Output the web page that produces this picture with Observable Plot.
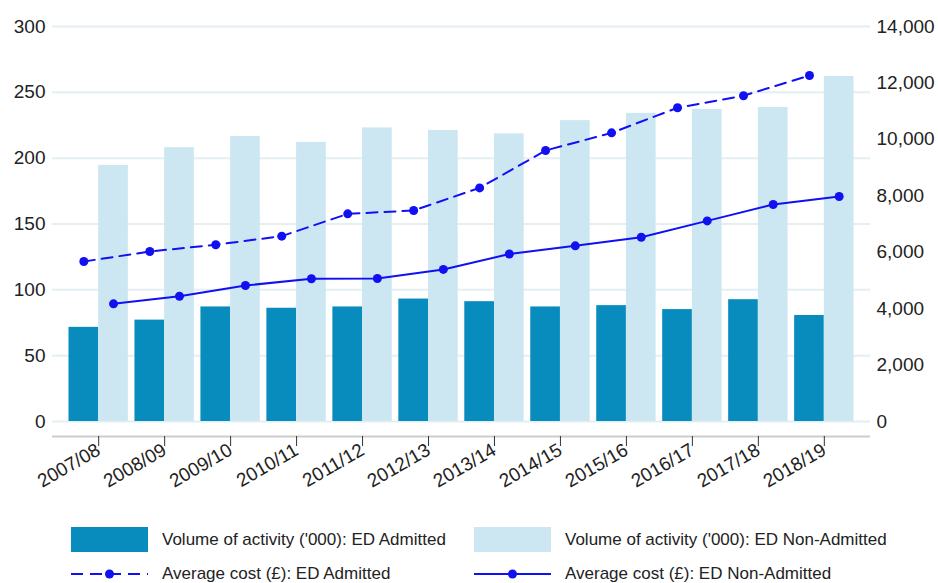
<!DOCTYPE html>
<html><head><meta charset="utf-8">
<script src="https://cdn.jsdelivr.net/npm/d3@7"></script>
<script src="https://cdn.jsdelivr.net/npm/@observablehq/plot@0.6"></script>
<style>
body{margin:0;background:#fff;font-family:"Liberation Sans",Arial,sans-serif;}
#wrap{position:relative;width:938px;height:583px;overflow:hidden}
.leg{position:absolute;display:flex;align-items:center;font-size:17px;color:#222;white-space:nowrap}
.leg svg{margin-right:14px}
</style></head><body>
<div id="wrap"><div id="chart"></div><div id="legend"></div></div>
<script>
const years = ["2007/08","2008/09","2009/10","2010/11","2011/12","2012/13","2013/14","2014/15","2015/16","2016/17","2017/18","2018/19"];
const volAdmitted    = [71.5, 77, 87, 86, 87, 93, 91, 87, 88, 85, 92.5, 80.5];
const volNonAdmitted = [194.5, 208, 216.5, 212, 223, 221, 218.5, 228.5, 234, 237, 238.5, 262];
const costAdmitted    = [5670, 6025, 6265, 6570, 7360, 7480, 8280, 9605, 10230, 11120, 11545, 12265];
const costNonAdmitted = [4170, 4440, 4820, 5060, 5070, 5390, 5935, 6225, 6530, 7110, 7690, 7975];
const leftTicks  = [0, 50, 100, 150, 200, 250, 300];
const rightTicks = [0, 2000, 4000, 6000, 8000, 10000, 12000, 14000];
const seriesNames = ["Volume of activity ('000): ED Admitted", "Volume of activity ('000): ED Non-Admitted",
                     "Average cost (£): ED Admitted", "Average cost (£): ED Non-Admitted"];

const LEFT_MAX = 300, RIGHT_MAX = 14000;
const toLeft = c => c * LEFT_MAX / RIGHT_MAX;
const colAdm = "#088bbd", colNon = "#cce7f2", colLine = "#1010f2";

const W = 938, H = 505, mL = 52, mR = 68, mT = 26, mB = 69;
const yMin = -15 * 300 / 395;
const pInner = 0.1, pOuter = 0.25;
const bw = d3.scaleBand(years, [mL, W - mR]).paddingInner(pInner).paddingOuter(pOuter).bandwidth();

const vol = years.map((y, i) => ({year: y, adm: volAdmitted[i], non: volNonAdmitted[i]}));
const cost = years.map((y, i) => ({year: y, adm: toLeft(costAdmitted[i]), non: toLeft(costNonAdmitted[i])}));

const chart = Plot.plot({
  width: W, height: H,
  marginLeft: mL, marginRight: mR, marginTop: mT, marginBottom: mB,
  style: {fontFamily: "Liberation Sans, Arial, sans-serif", fontSize: "19px", color: "#222", background: "#fff"},
  x: {domain: years, paddingInner: pInner, paddingOuter: pOuter, round: false, label: null},
  y: {domain: [yMin, LEFT_MAX], label: null},
  marks: [
    Plot.gridY(leftTicks, {stroke: "#e4eff3", strokeOpacity: 1, strokeWidth: 2}),
    Plot.barY(vol, {x: "year", y: "adm", fill: colAdm, insetRight: bw / 2}),
    Plot.barY(vol, {x: "year", y: "non", fill: colNon, insetLeft: bw / 2}),
    Plot.line(cost, {x: "year", y: "adm", dx: -bw / 4, stroke: colLine, strokeWidth: 2, strokeDasharray: "11,7"}),
    Plot.dot(cost, {x: "year", y: "adm", dx: -bw / 4, r: 4.5, fill: colLine}),
    Plot.line(cost, {x: "year", y: "non", dx: bw / 4, stroke: colLine, strokeWidth: 2}),
    Plot.dot(cost, {x: "year", y: "non", dx: bw / 4, r: 4.5, fill: colLine}),
    Plot.axisY(leftTicks, {anchor: "left", tickSize: 0, tickPadding: 7, fontSize: 19, label: null}),
    Plot.axisY(rightTicks.map(toLeft), {anchor: "right", tickSize: 0, tickPadding: 6, fontSize: 19, label: null,
      tickFormat: d => d3.format(",")(Math.round(d * RIGHT_MAX / LEFT_MAX))}),
    Plot.ruleY([yMin], {stroke: "#cccccc", strokeWidth: 2}),
    Plot.axisX({anchor: "bottom", tickSize: 10, tickPadding: 2, tickRotate: -30, fontSize: 19, stroke: "#333", label: null})
  ]
});
document.getElementById("chart").appendChild(chart);

// legend
const leg = document.getElementById("legend");
function item(left, top, svg, text) {
  const d = document.createElement("div");
  d.className = "leg";
  d.style.left = left + "px"; d.style.top = top + "px";
  d.innerHTML = svg + "<span>" + text + "</span>";
  leg.appendChild(d);
}
const rectSw = c => `<svg width="77" height="25"><rect width="77" height="25" fill="${c}"/></svg>`;
const lineSw = dash => `<svg width="77" height="12"><line x1="0" x2="77" y1="6" y2="6" stroke="${colLine}" stroke-width="2" ${dash ? 'stroke-dasharray="12,7"' : ''}/><circle cx="38.5" cy="6" r="4.5" fill="${colLine}"/></svg>`;
item(71, 527, rectSw(colAdm), seriesNames[0]);
item(474, 527, rectSw(colNon), seriesNames[1]);
item(71, 564, lineSw(true), seriesNames[2]);
item(474, 564, lineSw(false), seriesNames[3]);
</script>
</body></html>
